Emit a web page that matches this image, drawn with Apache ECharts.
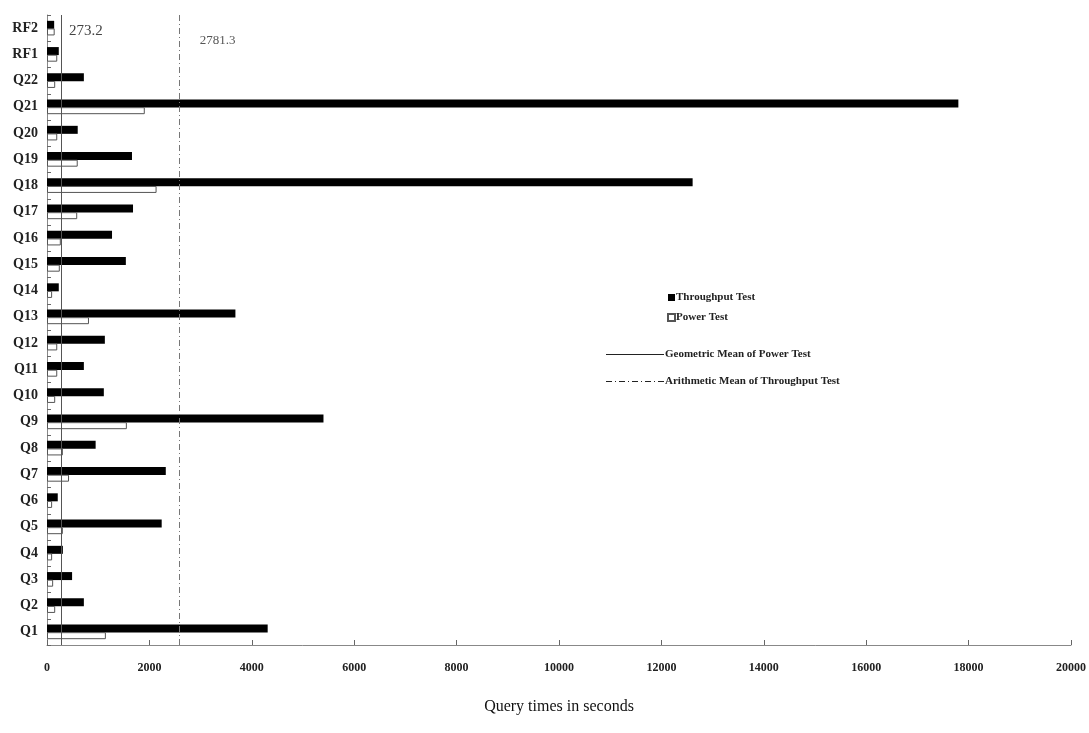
<!DOCTYPE html>
<html>
<head>
<meta charset="utf-8">
<script src="https://cdn.jsdelivr.net/npm/echarts@6/dist/echarts.min.js"></script>
<style>html,body{margin:0;padding:0;background:#fff;}#c{width:1089px;height:733px;}</style>
</head>
<body>
<div id="c"></div>
<script>
const categories = ['Q1','Q2','Q3','Q4','Q5','Q6','Q7','Q8','Q9','Q10','Q11','Q12','Q13','Q14','Q15','Q16','Q17','Q18','Q19','Q20','Q21','Q22','RF1','RF2'];
const throughputTest = [4310,720,490,310,2240,210,2320,950,5400,1110,720,1130,3680,230,1540,1270,1680,12610,1660,600,17800,720,230,140];
const powerTest = [1150,160,120,100,310,100,430,310,1560,160,200,200,820,100,250,270,590,2140,600,200,1910,160,200,150];
const geoMeanPower = 273.2;      // geometric mean of power test
const arithMeanThroughput = 2575; // position
const geoMeanLabel = '273.2';
const arithMeanLabel = '2781.3';
const xTicks = [0,2000,4000,6000,8000,10000,12000,14000,16000,18000,20000];

const serif = 'Liberation Serif';

// legend icon paths (style only)
const solidIcon = 'path://M0,0H58V1H0Z';
let dd = '';
for (let x = 0; x < 58; x += 13) {
  const w = Math.min(6, 58 - x);
  dd += 'M' + x + ',0H' + (x + w) + 'V1H' + x + 'Z';
  if (x + 9 <= 58) dd += 'M' + (x + 9) + ',0H' + (x + 10) + 'V1H' + (x + 9) + 'Z';
}
const dashDotIcon = 'path://' + dd;

const chart = echarts.init(document.getElementById('c'), null, {renderer:'canvas'});
const option = {
  backgroundColor:'#fff',
  animation:false,
  grid:{left:47,right:16,top:15,bottom:88,containLabel:false},
  xAxis:{
    type:'value', min:xTicks[0], max:xTicks[xTicks.length-1], interval:2000,
    axisLine:{show:true,lineStyle:{color:'#888',width:1}},
    axisTick:{show:true,inside:true,length:5,lineStyle:{color:'#666'}},
    splitLine:{show:false},
    axisLabel:{fontFamily:serif,fontWeight:'bold',fontSize:12,color:'#222',margin:17,
      formatter:function(v){return String(v);}},
    name:'Query times in seconds', nameLocation:'middle', nameGap:54,
    nameTextStyle:{fontFamily:serif,fontSize:16,color:'#111'}
  },
  yAxis:{
    type:'category', data:categories,
    axisLine:{show:true,lineStyle:{color:'#888',width:1}},
    axisTick:{show:true,inside:true,length:4,lineStyle:{color:'#666'}},
    axisLabel:{fontFamily:serif,fontWeight:'bold',fontSize:14,color:'#222',margin:9}
  },
  legend:[{
    orient:'vertical', left:662, top:287, itemWidth:7, itemHeight:7, itemGap:9,
    data:[{name:'Throughput Test',icon:'rect'},{name:'Power Test',icon:'rect'}],
    textStyle:{fontFamily:serif,fontWeight:'bold',fontSize:11,color:'#222',padding:[0,0,0,-4]}
  },{
    orient:'vertical', left:601, top:344, itemWidth:58, itemHeight:1, itemGap:16,
    symbolKeepAspect:false,
    data:[{name:'Geometric Mean of Power Test',icon:solidIcon,itemStyle:{color:'#222'}},
          {name:'Arithmetic Mean of Throughput Test',icon:dashDotIcon,itemStyle:{color:'#222'}}],
    textStyle:{fontFamily:serif,fontWeight:'bold',fontSize:11,color:'#222',padding:[0,0,0,-4]}
  }],
  series:[
    {name:'Throughput Test',type:'bar',data:throughputTest,barWidth:8,barGap:'-5%',
     itemStyle:{color:'#000'}},
    {name:'Power Test',type:'bar',data:powerTest,barWidth:7,
     itemStyle:{color:'#fff',borderColor:'#555',borderWidth:1}},
    {name:'Geometric Mean of Power Test',type:'line',data:[],symbol:'none',
     lineStyle:{color:'#222',width:1,type:'solid'},itemStyle:{color:'#222'},
     markLine:{silent:true,symbol:'none',label:{show:false},
       lineStyle:{color:'#555',width:1,type:'solid'},data:[{xAxis:geoMeanPower}]}},
    {name:'Arithmetic Mean of Throughput Test',type:'line',data:[],symbol:'none',
     lineStyle:{color:'#222',width:1,type:[6,3,1,3]},itemStyle:{color:'#222'},
     markLine:{silent:true,symbol:'none',label:{show:false},
       lineStyle:{color:'#777',width:1,type:[6,3,1,3]},data:[{xAxis:arithMeanThroughput}]}}
  ]
};
chart.setOption(option);
const gx = chart.convertToPixel({xAxisIndex:0}, geoMeanPower);
const ax = chart.convertToPixel({xAxisIndex:0}, arithMeanThroughput);
chart.setOption({graphic:[
  {type:'text',left:gx+8,top:24,style:{text:geoMeanLabel,fontFamily:serif,fontSize:15,fill:'#444'}},
  {type:'text',left:ax+21,top:34,style:{text:arithMeanLabel,fontFamily:serif,fontSize:13,fill:'#555'}}
]});
</script>
</body>
</html>
